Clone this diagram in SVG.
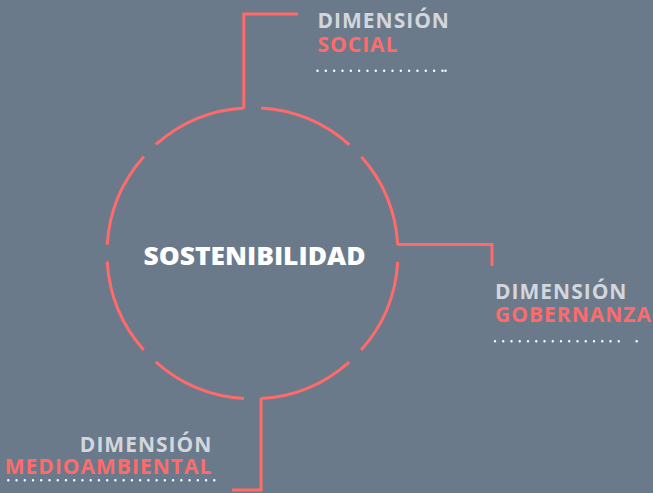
<svg xmlns="http://www.w3.org/2000/svg" width="653" height="493" viewBox="0 0 653 493">
<style>
.bg{fill:#6b7a8b}
.ring{fill:none;stroke:#ff6b6b;stroke-width:3;stroke-dasharray:97.27 17;stroke-dashoffset:105.77}
.conn{fill:none;stroke:#ff6b6b;stroke-width:3;stroke-linejoin:miter}
.dim{font-family:"Open Sans","Liberation Sans",sans-serif;font-weight:700;font-size:21px;letter-spacing:1px;fill:#d3d6dd}
.name{font-family:"Open Sans","Liberation Sans",sans-serif;font-weight:700;font-size:21px;letter-spacing:1px;fill:#ff6b6b}
.dots{fill:none;stroke:#ffffff;stroke-width:2.4;stroke-linecap:round}
.title{font-family:"Open Sans","Liberation Sans",sans-serif;font-weight:800;font-size:25px;fill:#ffffff}
</style>
<rect class="bg" x="0" y="0" width="653" height="493"/>
<g id="center">
<circle class="ring" cx="252.5" cy="253.3" r="145.5"/>
<text class="title" x="143.5" y="265" textLength="222" lengthAdjust="spacingAndGlyphs">SOSTENIBILIDAD</text>
</g>
<g id="connectors">
<path class="conn" d="M243.8 108.5 V14 H298"/>
<path class="conn" d="M397.5 244.5 H492 V266"/>
<path class="conn" d="M261 398 V490 H232"/>
</g>
<g id="social">
<text class="dim" x="317.5" y="28.3">DIMENSIÓN</text>
<text class="name" x="317.5" y="51.7">SOCIAL</text>
<path class="dots" d="M317.5 70.8 H442.5" stroke-dasharray="0 8.33"/>
<path class="dots" d="M445.5 70.8 H449" stroke-dasharray="0 3.5"/>
</g>
<g id="gobernanza">
<text class="dim" x="495" y="298.8">DIMENSIÓN</text>
<text class="name" x="495" y="322.3">GOBERNANZA</text>
<path class="dots" d="M495 341.3 H627" stroke-dasharray="0 8.25"/>
<circle cx="636.7" cy="341.3" r="1.2" fill="#ffffff"/>
</g>
<g id="medioambiental">
<text class="dim" x="212.3" y="451.6" text-anchor="end">DIMENSIÓN</text>
<text class="name" x="212.3" y="474.3" text-anchor="end">MEDIOAMBIENTAL</text>
<path class="dots" d="M8.3 480.2 H214.3" stroke-dasharray="0 8.24"/>
</g>
</svg>
